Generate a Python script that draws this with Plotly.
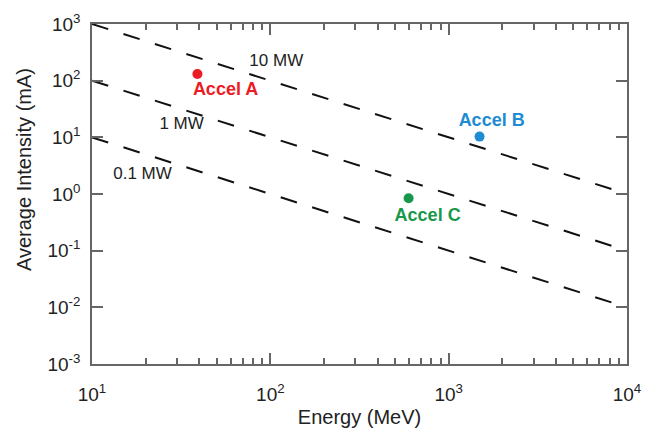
import plotly.graph_objects as go

# ---- data ----
power_labels = ["10 MW", "1 MW", "0.1 MW"]
line_energy = [10, 10000]
line_intensity_10mw = [1000, 1]
line_intensity_1mw = [100, 0.1]
line_intensity_01mw = [10, 0.01]

accel_names = ["Accel A", "Accel B", "Accel C"]
accel_energy = [39, 1490, 596]
accel_intensity = [131, 10.3, 0.84]

x_tickvals = [10, 100, 1000, 10000]
x_ticktext = ["10<sup>1</sup>", "10<sup>2</sup>", "10<sup>3</sup>", "10<sup>4</sup>"]
y_tickvals = [0.001, 0.01, 0.1, 1, 10, 100, 1000]
y_ticktext = ["10<sup>-3</sup>", "10<sup>-2</sup>", "10<sup>-1</sup>", "10<sup>0</sup>",
              "10<sup>1</sup>", "10<sup>2</sup>", "10<sup>3</sup>"]

x_title = "Energy (MeV)"
y_title = "Average Intensity (mA)"

# ---- label placement (layout) ----
power_label_x = [108, 31.8, 19.2]
power_label_y = [214, 16.6, 2.17]
accel_label_x = [56.1, 1742, 762]
accel_label_y = [65.8, 18.9, 0.399]
accel_colors = ["#ec1c24", "#1e8bd2", "#17984a"]

FONT = "Liberation Sans, Arial, sans-serif"

fig = go.Figure()
for ys in [line_intensity_10mw, line_intensity_1mw, line_intensity_01mw]:
    fig.add_trace(go.Scatter(x=line_energy, y=ys, mode="lines",
                             line=dict(color="#111111", width=2, dash="17px,16px"),
                             hoverinfo="skip", showlegend=False))

fig.add_trace(go.Scatter(x=power_label_x, y=power_label_y, mode="text",
                         text=power_labels, textfont=dict(family=FONT, size=17, color="#222222"),
                         showlegend=False))

for i in range(3):
    fig.add_trace(go.Scatter(x=[accel_energy[i]], y=[accel_intensity[i]], mode="markers",
                             marker=dict(color=accel_colors[i], size=10),
                             showlegend=False))
    fig.add_trace(go.Scatter(x=[accel_label_x[i]], y=[accel_label_y[i]], mode="text",
                             text=["<b>" + accel_names[i] + "</b>"],
                             textfont=dict(family=FONT, size=18, color=accel_colors[i]),
                             showlegend=False))

minor_x = [m * 10 ** e for e in range(1, 4) for m in range(2, 10)]

axis_common = dict(
    type="log", showgrid=False, zeroline=False, automargin=False,
    showline=True, linecolor="#666666", linewidth=1.5, mirror="ticks",
    ticks="inside", ticklen=11, tickwidth=1.5, tickcolor="#666666",
    tickfont=dict(family=FONT, size=19, color="#222222"),
)

fig.update_xaxes(**axis_common, range=[1, 4], tickmode="array",
                 tickvals=x_tickvals, ticktext=x_ticktext, ticklabelstandoff=12,
                 minor=dict(tickmode="array", tickvals=minor_x, ticks="inside",
                            ticklen=6, tickwidth=1.5, tickcolor="#666666", showgrid=False),
                 title=dict(text=x_title, font=dict(family=FONT, size=20, color="#222222"),
                            standoff=6))
fig.update_yaxes(**axis_common, range=[-3, 3], tickmode="array",
                 tickvals=y_tickvals, ticktext=y_ticktext, ticklabelstandoff=6)

fig.add_annotation(text=y_title, xref="paper", yref="paper", x=-0.127, y=0.5706,
                   xanchor="center", yanchor="middle", textangle=-90, showarrow=False,
                   font=dict(family=FONT, size=20, color="#222222"))

fig.update_layout(
    template="none",
    width=653, height=430,
    margin=dict(l=92, r=26, t=24, b=66),
    paper_bgcolor="white", plot_bgcolor="white",
    showlegend=False,
)

fig.write_html("out.html", config={"displayModeBar": False},
               post_script="document.body.style.margin='0px';")
